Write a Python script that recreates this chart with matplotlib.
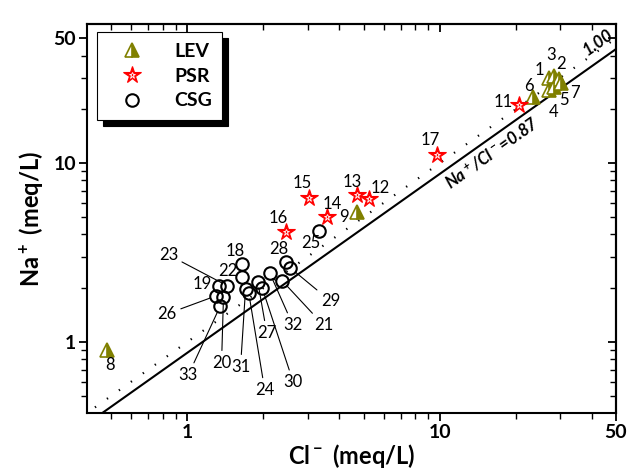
import matplotlib
matplotlib.use('Agg')
import matplotlib.pyplot as plt
import numpy as np
from matplotlib.lines import Line2D
from matplotlib.ticker import FixedLocator, NullFormatter

plt.rcParams['font.family'] = ['Lato', 'DejaVu Sans']
plt.rcParams['mathtext.default'] = 'regular'

# LEV samples
lev_id = ['1', '2', '3', '4', '5', '6', '7', '8', '9']
lev_cl = [27.1, 29.7, 28.3, 27.1, 28.3, 23.4, 30.2, 0.48, 4.69]
lev_na = [30.0, 29.6, 30.7, 25.7, 26.7, 23.5, 28.1, 0.90, 5.33]

# PSR samples
psr_id = ['11', '12', '13', '14', '15', '16', '17']
psr_cl = [20.6, 5.23, 4.69, 3.59, 3.02, 2.45, 9.73]
psr_na = [21.2, 6.31, 6.64, 5.00, 6.39, 4.12, 11.1]

# CSG samples
csg_id = ['18', '19', '20', '21', '22', '23', '24', '25',
          '26', '27', '28', '29', '30', '31', '32', '33']
csg_cl = [1.65, 1.33, 1.39, 2.38, 1.64, 1.44, 1.75, 3.31,
          1.30, 1.90, 2.45, 2.56, 1.98, 1.70, 2.12, 1.35]
csg_na = [2.73, 2.06, 1.79, 2.19, 2.31, 2.06, 1.88, 4.18,
          1.81, 2.17, 2.80, 2.59, 2.00, 1.98, 2.43, 1.59]

ratio_fit = 0.87
ratio_one = 1.00

# label offsets (points) and whether a leader line is drawn
offsets = {
    '1': (-6.5, 5.8), '2': (1.4, 10.8), '3': (-2, 15), '4': (3.6, -15.8),
    '5': (7.2, -9.4), '6': (-2.9, 7.6), '7': (10, -7.2), '8': (2, -10.8),
    '9': (-9.4, -3.6),
    '11': (-11.5, 2.2), '12': (8.6, 7.9), '13': (-3.6, 9.4), '14': (3.6, 9.4),
    '15': (-4.3, 10.8), '16': (-5, 10), '17': (-5, 10.8),
    '18': (-5, 9.4), '19': (-11.5, 1.4), '20': (-1.4, -47.5), '21': (29.5, -31.7),
    '22': (-10, 4.3), '23': (-42.5, 22.3), '24': (11.5, -69.8), '25': (-5.8, -8.6),
    '26': (-35.3, -13), '27': (6.5, -36.7), '28': (-5, 9.4), '29': (28.8, -23.8),
    '30': (22.3, -67.7), '31': (-3.6, -56), '32': (16.6, -37.4), '33': (-23, -49.7),
}
leader = ['20', '21', '23', '24', '26', '27', '29', '30', '31', '32', '33']

olive = '#808000'

fig = plt.figure(figsize=(6.27, 4.72), dpi=100)
ax = fig.add_axes([0.1388, 0.125, 0.8437, 0.824])
ax.set_xscale('log')
ax.set_yscale('log')
ax.set_xlim(0.4, 50)
ax.set_ylim(0.4, 60)

# reference lines
xx = np.array([0.4, 50])
ax.plot(xx, ratio_fit * xx, color='black', lw=1.5, zorder=2)
xd = np.array([0.43, 50])
ax.plot(xd, ratio_one * xd, color='black', lw=1.6, ls=(0, (0.6, 6)), zorder=2)

tri = dict(marker='^', ls='none', ms=10, color=olive, mec=olive, fillstyle='right',
           markerfacecoloralt='white', mew=1.2)
star = dict(marker='*', ls='none', ms=13, color='red', mec='red', mew=0.8)
star_in = dict(marker='*', ls='none', ms=4.5, mfc='none', mec='white', mew=0.6)
circ = dict(marker='o', ls='none', ms=9, mfc='none', mec='black', mew=1.5)

ax.plot(lev_cl, lev_na, zorder=4, **tri)
ax.plot(psr_cl, psr_na, zorder=4, **star)
ax.plot(psr_cl, psr_na, zorder=5, **star_in)
ax.plot(csg_cl, csg_na, zorder=4, **circ)

for ids, xs, ys in [(lev_id, lev_cl, lev_na), (psr_id, psr_cl, psr_na), (csg_id, csg_cl, csg_na)]:
    for i, x, y in zip(ids, xs, ys):
        kw = {}
        if i in leader:
            kw['arrowprops'] = dict(arrowstyle='-', lw=0.8, color='black',
                                    shrinkA=1, shrinkB=4.5)
        ax.annotate(i, (x, y), xytext=offsets[i], textcoords='offset points',
                    ha='center', va='center', fontsize=12, color='black', zorder=6, **kw)

# ratio labels
ang = np.degrees(np.arctan(178.8 / 252))
ax.text(0.766, 0.668, 'Na$^+$/Cl$^-$=0.87', transform=ax.transAxes, rotation=ang,
        ha='center', va='center', fontsize=12, fontweight='bold', style='italic')
ax.text(0.966, 0.954, '1.00', transform=ax.transAxes, rotation=ang,
        ha='center', va='center', fontsize=12, fontweight='bold', style='italic')

# ticks
major = [1, 10, 50]
minor = [0.5, 0.6, 0.7, 0.8, 0.9, 2, 3, 4, 5, 6, 7, 8, 9, 20, 30, 40]
for axis in (ax.xaxis, ax.yaxis):
    axis.set_major_locator(FixedLocator(major))
    axis.set_minor_locator(FixedLocator(minor))
    axis.set_minor_formatter(NullFormatter())
ax.set_xticklabels(['1', '10', '50'])
ax.set_yticklabels(['1', '10', '50'])
ax.tick_params(which='major', direction='out', length=6, width=1.3, labelsize=14, pad=2)
ax.tick_params(which='minor', direction='out', length=4, width=1.0)
for lab in ax.get_xticklabels() + ax.get_yticklabels():
    lab.set_fontweight('bold')

top = ax.secondary_xaxis('top')
right = ax.secondary_yaxis('right')
for sec, axis in ((top, top.xaxis), (right, right.yaxis)):
    axis.set_major_locator(FixedLocator(major))
    axis.set_minor_locator(FixedLocator(minor))
    axis.set_major_formatter(NullFormatter())
    axis.set_minor_formatter(NullFormatter())
    sec.tick_params(which='major', direction='in', length=6, width=1.3)
    sec.tick_params(which='minor', direction='in', length=4, width=1.0)

for s in ax.spines.values():
    s.set_linewidth(1.5)
top.spines['top'].set_linewidth(1.5)
right.spines['right'].set_linewidth(1.5)

ax.set_xlabel('Cl$^-$ (meq/L)', fontsize=17, fontweight='bold', labelpad=1)
ax.set_ylabel('Na$^+$ (meq/L)', fontsize=17, fontweight='bold', labelpad=6)

handles = [Line2D([], [], **tri),
           (Line2D([], [], **star), Line2D([], [], **star_in)),
           Line2D([], [], **circ)]
leg = ax.legend(handles, ['LEV', 'PSR', 'CSG'], loc='upper left',
                bbox_to_anchor=(0.019, 0.979), borderaxespad=0, fancybox=False,
                edgecolor='black', framealpha=1, handlelength=2.5, handletextpad=0.9,
                labelspacing=0.4, borderpad=0.55,
                prop={'size': 14, 'weight': 'bold'},
                shadow={'color': 'black', 'alpha': 1, 'ox': 4, 'oy': -4})
leg.get_frame().set_linewidth(0.8)

fig.savefig('out.png', dpi=100)
